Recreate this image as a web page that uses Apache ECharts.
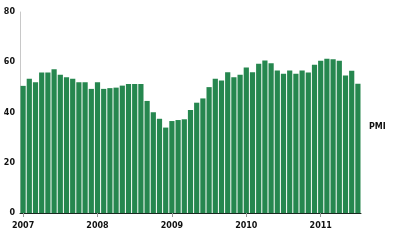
<!DOCTYPE html>
<html>
<head>
<meta charset="utf-8">
<script src="https://cdn.jsdelivr.net/npm/echarts@6/dist/echarts.min.js"></script>
<style>html,body{margin:0;padding:0;background:#fff;}#c{width:400px;height:249px;}</style>
</head>
<body>
<div id="c"></div>
<script>
const years = ['2007', '2008', '2009', '2010', '2011'];
const months = [];
years.forEach(function (y) { for (let m = 1; m <= 12; m++) months.push(y + '-' + (m < 10 ? '0' + m : m)); });
const categories = months.slice(0, 55);
const pmi = [
  50.6, 53.4, 52, 55.9, 55.9, 57.2, 55, 54, 53.4, 52, 52, 49.4,
  52, 49.4, 49.7, 49.9, 50.7, 51.3, 51.3, 51.3, 44.6, 40.1, 37.5, 34,
  36.6, 37, 37.3, 41, 43.9, 45.6, 50.1, 53.4, 52.7, 56, 54, 55,
  57.9, 56, 59.4, 60.7, 59.6, 56.7, 55.4, 56.7, 55.4, 56.7, 55.9, 59,
  60.6, 61.4, 61.2, 60.6, 54.7, 56.6, 51.4
];
const yTicks = [0, 20, 40, 60, 80];
const seriesLabel = 'PMI';

const chart = echarts.init(document.getElementById('c'), null, { renderer: 'canvas' });
chart.setOption({
  animation: false,
  grid: { left: 20, right: 39, top: 12, bottom: 36, containLabel: false },
  xAxis: {
    type: 'category',
    data: categories,
    boundaryGap: true,
    axisLine: { lineStyle: { color: '#1a2a20', width: 1 } },
    axisTick: { show: true, alignWithLabel: true, interval: function (i, v) { return v.slice(5) === '01'; }, length: 4, lineStyle: { color: '#999' } },
    axisLabel: {
      interval: function (i, v) { return v.slice(5) === '01'; },
      formatter: function (v) { return v.slice(0, 4); },
      fontFamily: 'DejaVu Sans', fontSize: 8, fontWeight: 'bold', color: '#111', margin: 9
    },
    splitLine: { show: false }
  },
  yAxis: {
    type: 'value', min: yTicks[0], max: yTicks[yTicks.length - 1], interval: 20,
    axisLine: { show: true, lineStyle: { color: '#c8c8c8' } },
    axisTick: { show: false },
    axisLabel: { fontFamily: 'DejaVu Sans', fontSize: 8, fontWeight: 'bold', color: '#111', margin: 5 },
    splitLine: { show: false }
  },
  series: [{
    type: 'bar',
    name: seriesLabel,
    data: pmi,
    barCategoryGap: '16%',
    itemStyle: { color: '#26874f' }
  }],
  graphic: [{
    type: 'text', left: 369, top: 123,
    style: { text: seriesLabel, fontFamily: 'DejaVu Sans', fontSize: 8, fontWeight: 'bold', fill: '#111' }
  }]
});
</script>
</body>
</html>
